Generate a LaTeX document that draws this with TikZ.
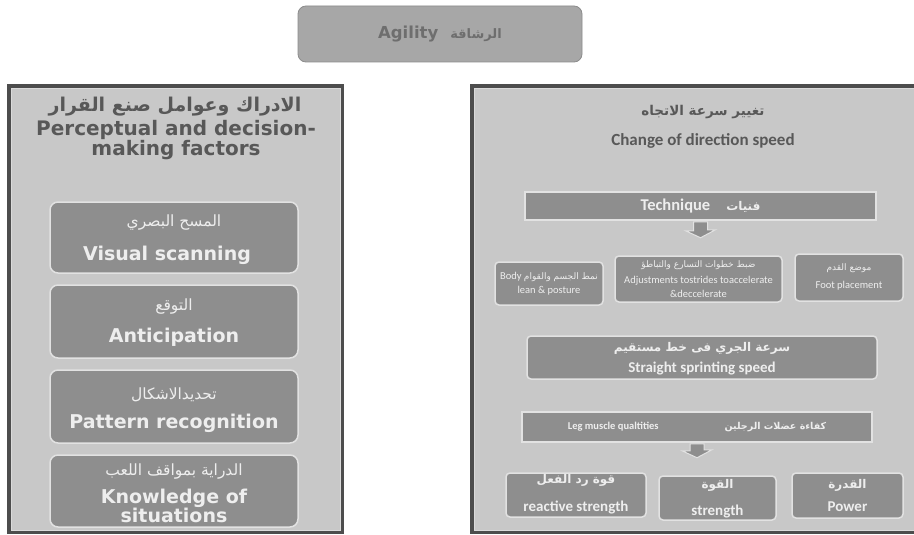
\documentclass[tikz,border=0pt]{standalone}
\usepackage{fontspec}
\setmainfont{DejaVu Sans}
\newfontfamily\arabicfont[Script=Arabic]{DejaVu Sans}
\newfontfamily\calfont{Carlito}
\TeXXeTstate=1
\usetikzlibrary{calc}
\newcommand\artxt[1]{{\arabicfont\beginR #1\endR}}
\definecolor{panelfill}{HTML}{C8C8C8}
\definecolor{paneledge}{HTML}{4D4D4D}
\definecolor{boxfill}{HTML}{8E8E8E}
\definecolor{boxedge}{HTML}{E2E2E2}
\definecolor{boxtext}{HTML}{EEEEEE}
\definecolor{titlegray}{HTML}{585858}
\definecolor{topfill}{HTML}{A7A7A7}
\definecolor{topedge}{HTML}{8C8C8C}
\definecolor{toptext}{HTML}{6E6E6E}
\newcommand\dnarrow[2]{\draw[barrow] ($(#1.south)+(-7,1)$) -- ++(0,#2-8) -- ++(-8,0) -- ($(#1.south)+(0,#2)$) -- ($(#1.south)+(15,#2-8)$) -- ++(-8,0) -- ++(0,-#2+9) -- cycle;}
\begin{document}
\begin{tikzpicture}[x=1pt,y=-1pt,
  panel/.style={draw=paneledge, line width=4pt, fill=panelfill, inner sep=0pt},
  innerline/.style={draw=boxedge!70!panelfill, line width=0.8pt},
  topbox/.style={draw=topedge, line width=0.8pt, fill=topfill, rounded corners=8pt, inner sep=0pt, text=toptext, font=\bfseries\fontsize{16.5}{18}\selectfont},
  lbox/.style={draw=boxedge, line width=1.5pt, fill=boxfill, rounded corners=8pt, inner sep=0pt},
  rbox/.style={draw=boxedge, line width=1.5pt, fill=boxfill, rounded corners=4pt, inner sep=0pt},
  bar/.style={draw=boxedge, line width=1.5pt, fill=boxfill, inner sep=0pt},
  barrow/.style={draw=boxedge, line width=1pt, fill=boxfill},
  ltitlear/.style={text=titlegray, font=\arabicfont\bfseries\fontsize{19}{21}\selectfont},
  ltitleen/.style={text=titlegray, align=center, font=\bfseries\fontsize{20}{20.5}\selectfont},
  lboxar/.style={text=boxtext, font=\arabicfont\fontsize{15.5}{17}\selectfont},
  lboxen/.style={text=boxtext, align=center, font=\bfseries\fontsize{19}{15.5}\selectfont},
  rtitlear/.style={text=titlegray, font=\arabicfont\bfseries\fontsize{13.5}{16}\selectfont},
  rtitleen/.style={text=titlegray, font=\calfont\bfseries\fontsize{17}{19}\selectfont},
  smalltxt/.style={text=boxtext, align=center, font=\calfont\fontsize{10.5}{14}\selectfont},
  smallar/.style={text=boxtext, font=\arabicfont\fontsize{9}{11}\selectfont},
  midar/.style={text=boxtext, font=\arabicfont\bfseries\fontsize{12}{14}\selectfont},
  miden/.style={text=boxtext, font=\calfont\bfseries\fontsize{15}{17}\selectfont}
]
\clip (0,0) rectangle (914,535);
\fill[white] (0,0) rectangle (914,535);

% top box
\node[topbox, minimum width=284, minimum height=56] (agility) at (440,34)
  {Agility\hspace{12pt}\artxt{\fontsize{13}{15}\selectfont الرشاقة}};

% left panel
\node[panel, minimum width=333, minimum height=446] (leftpanel) at (175.5,309) {};
\draw[innerline] ($(leftpanel.north west)+(4,4)$) rectangle ($(leftpanel.south east)+(-4,-4)$);
\node[ltitlear] (lt-ar) at (175,107) {\artxt{الادراك وعوامل صنع القرار}};
\node[ltitleen] (lt-en) at (176,140) {Perceptual and decision-\\making factors};

\node[lbox, minimum width=248, minimum height=71] (vis) at (174,237.5) {};
\node[lboxar] (vis-ar) at (174,223) {\artxt{المسح البصري}};
\node[lboxen] (vis-en) at (167,255) {Visual scanning};

\node[lbox, minimum width=248, minimum height=73] (ant) at (174,321.5) {};
\node[lboxar] (ant-ar) at (174,307) {\artxt{التوقع}};
\node[lboxen] (ant-en) at (174,337) {Anticipation};

\node[lbox, minimum width=248, minimum height=73] (pat) at (174,406.5) {};
\node[lboxar] (pat-ar) at (174,395) {\artxt{تحديدالاشكال}};
\node[lboxen] (pat-en) at (174,423) {Pattern recognition};

\node[lbox, minimum width=248, minimum height=72] (know) at (174,491) {};
\node[lboxar] (know-ar) at (174,472) {\artxt{الدراية بمواقف اللعب}};
\node[lboxen] (know-en) at (174,506) {Knowledge of\\situations};

% right panel
\node[panel, minimum width=458, minimum height=446] (rightpanel) at (701,309) {};
\draw[innerline] ($(rightpanel.north west)+(4,4)$) rectangle ($(rightpanel.south east)+(-4,-4)$);
\node[rtitlear] (rt-ar) at (703,112) {\artxt{تغيير سرعة الاتجاه}};
\node[rtitleen] (rt-en) at (703,141) {Change of direction speed};

\node[bar, minimum width=351, minimum height=28] (tech) at (700.5,206)
  {\color{boxtext}\calfont\bfseries\fontsize{16.5}{18}\selectfont Technique\hspace{16pt}\artxt{\fontsize{12}{14}\selectfont فنيات}};
\dnarrow{tech}{17}

\node[rbox, minimum width=108, minimum height=43] (body) at (549,283.5) {};
\node[smalltxt] (body-t) at (549,284) {Body \artxt{\fontsize{9}{11}\selectfont نمط الجسم والقوام}\\lean \& posture};

\node[rbox, minimum width=167, minimum height=46] (adj) at (698.5,279) {};
\node[smallar] (adj-ar) at (698.5,265) {\artxt{ضبط خطوات التسارع والتباطؤ}};
\node[smalltxt] (adj-en) at (698.5,286.5) {Adjustments tostrides toaccelerate\\\&deccelerate};

\node[rbox, minimum width=108, minimum height=47] (foot) at (849,277.5) {};
\node[smallar] (foot-ar) at (849,268) {\artxt{موضع القدم}};
\node[smalltxt] (foot-en) at (849,286) {Foot placement};

\node[rbox, minimum width=350, minimum height=43] (sprint) at (702,357.5) {};
\node[midar] (sprint-ar) at (702,348) {\artxt{سرعة الجري فى خط مستقيم}};
\node[miden] (sprint-en) at (702,368) {Straight sprinting speed};

\node[bar, minimum width=350, minimum height=30] (leg) at (697,427)
  {\color{boxtext}\calfont\bfseries\fontsize{10.5}{13}\selectfont Leg muscle qualtities\hspace{66pt}\artxt{\fontsize{9.5}{12}\selectfont كفاءة عضلات الرجلين}};
\dnarrow{leg}{15}

\node[rbox, minimum width=140, minimum height=44] (react) at (576,495) {};
\node[midar] (react-ar) at (576,480) {\artxt{قوة رد الفعل}};
\node[miden] (react-en) at (576,507) {reactive strength};

\node[rbox, minimum width=117, minimum height=44] (stren) at (717.5,498) {};
\node[midar] (stren-ar) at (717.5,485) {\artxt{القوة}};
\node[miden] (stren-en) at (717.5,512) {strength};

\node[rbox, minimum width=111, minimum height=45] (power) at (847.5,495.5) {};
\node[midar] (power-ar) at (847.5,485) {\artxt{القدرة}};
\node[miden] (power-en) at (847.5,507) {Power};
\end{tikzpicture}
\end{document}
